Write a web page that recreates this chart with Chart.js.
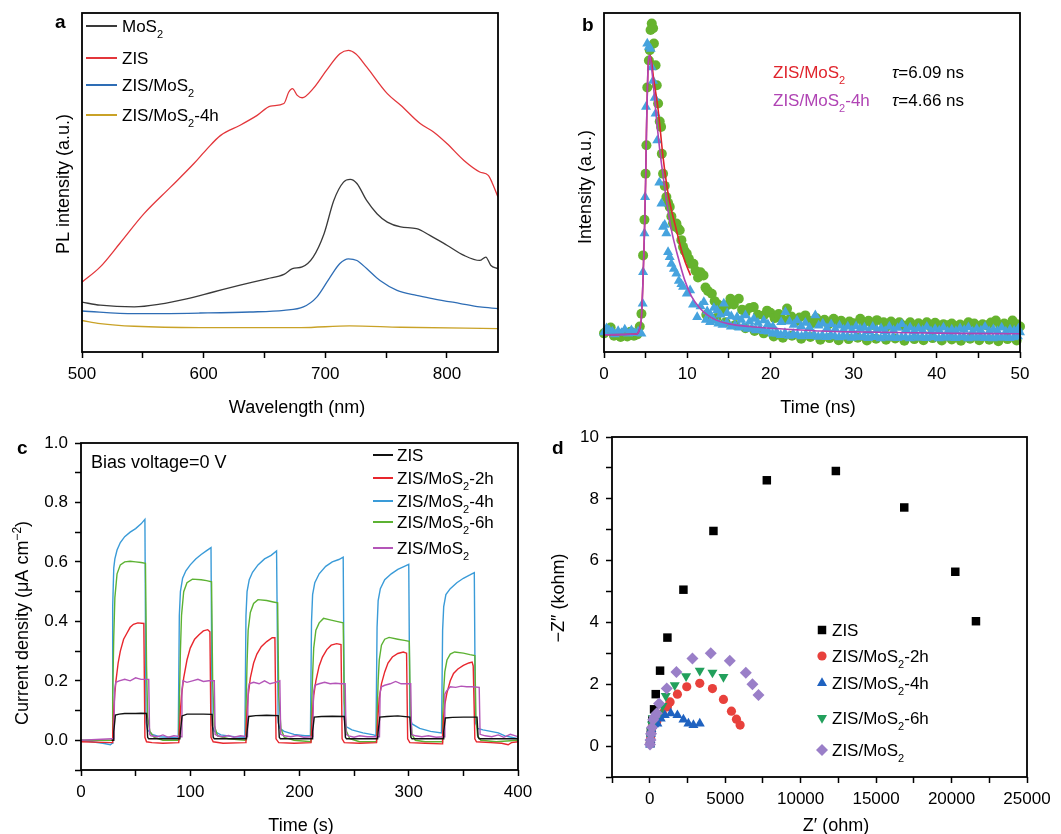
<!DOCTYPE html>
<html>
<head>
<meta charset="utf-8">
<title>PL, TRPL, photocurrent and EIS</title>
<script src="https://cdn.jsdelivr.net/npm/chart.js@4.4.1/dist/chart.umd.min.js"></script>
<style>
  html, body { margin: 0; padding: 0; background: #fff; }
  #fig { position: relative; width: 1061px; height: 834px; overflow: hidden; background: #fff; }
  #fig canvas { position: absolute; }
</style>
</head>
<body>
<div id="fig">
  <canvas id="plotA" width="530" height="420" style="left:0;top:0"></canvas>
  <canvas id="plotB" width="531" height="420" style="left:530px;top:0"></canvas>
  <canvas id="plotC" width="545" height="414" style="left:0;top:420px"></canvas>
  <canvas id="plotD" width="531" height="414" style="left:530px;top:420px"></canvas>
</div>
<script>
// ---- a: PL spectra (arbitrary units, 0-100) ----
const aMosX = [500,515,543,564,586,608,630,652,666,673,681,690,699,707,715,720.5,726,734,742.5,751,762,775,786,800,814,827,832,836,842];
const aMosY = [14.7,13.8,13.3,14.1,15.7,17.7,19.7,21.6,22.9,24.6,25.1,28,34.9,44.7,50.1,50.9,49.7,44.7,40.8,38.3,36.9,36.4,34.4,31.5,28.5,27,28,25.6,24.6];
const aZisX = [500,515,531,551,573,592,603,614,630,644,655,666,670,673,677,681,690,701,712,719,725,734,751,762,778,789,800,814,827,834,837,842];
const aZisY = [20.6,25.1,32,40.8,48.7,55.6,60,63.9,66.9,69.8,72.5,73.3,76.7,77.7,75.7,75,77.7,83.1,88,89,88,84.1,76.2,72.8,67.4,64.9,61.5,56.5,53.1,52.1,50.1,45.7];
const aZmX = [500,543,597,638,666,682,693,704,712,719,726,734,745,759,775,789,811,827,842];
const aZmY = [12.1,11.3,11.5,11.8,12.3,13.3,16.2,22.1,26.1,27.5,27,24.6,21.1,18.2,16.7,15.7,14.3,13.3,12.8];
const aZm4X = [500,515,543,597,680,720,762,842];
const aZm4Y = [9.3,8.4,7.6,7.2,7.2,7.7,7.3,6.9];

// ---- b: TRPL decay ----
const bGreenT = [0,0.4,0.8,1.2,1.6,2.0,2.4,2.8,3.2,3.6,4.0,4.3,4.5,4.7,4.86,5.0,5.1,5.2,5.4,5.5,5.6,5.74,5.9,6.0,6.2,6.34,6.5,6.7,6.86,6.95,7.1,7.3,7.5,7.7,7.9,8.1,8.3,8.5,8.7,8.9,9.1,9.3,9.5,9.7,9.95,10.2,10.5,10.75,11.0,11.3,11.6,11.96,12.2,12.5,12.96,13.3,13.7,14.0,14.4,14.8,15.2,15.6,16.2,16.6,17.0,17.5,18.0,18.5,19.2,19.6,20.0,20.5,21.0,21.5,22.0,22.5,23.0,23.5,24.2,24.6,25.0,25.5,26.0,26.5,27.0,27.6,28.0,28.5,29.0,29.5,30.0,30.8,31.2,31.8,32.3,32.8,33.6,34.0,34.5,35.0,35.5,36.0,36.8,37.3,37.8,38.3,38.8,39.3,39.8,40.3,40.8,41.3,41.8,42.3,42.8,43.3,43.8,44.5,45.0,45.5,46.0,46.5,47.1,47.6,48.1,48.6,49.1,49.6,50.0];
const bGreenV = [5.5,6.5,7.2,4.8,5.2,4.4,5.6,4.6,6.0,4.8,5.2,7.5,11.3,28.5,39,52.6,61,78,86,89,95,96.9,95.5,91,84.6,78.7,73.3,68,66.4,58.5,52.6,49,45.7,44,42.8,40,38,37,37.9,36.5,35.9,33,31,29.8,29,27.5,26,26,24,22,23.5,22.6,19,18,17.2,15,14,13.5,12,13.8,15.7,14,15.7,12.5,11.5,13,13.3,11,10.8,12.2,11.6,10,11.2,9.5,12.8,10.5,9,10.2,10.8,9.2,8.5,10,8.8,9.5,8.2,9.8,8.5,9.2,8,9,8.5,9.8,8.6,9.2,8,9.4,8.8,7.5,9,8.2,8.8,7.8,8.8,7.6,8.5,7.9,8.8,7.4,8.6,7.8,8.2,7.9,8.4,7.6,8.1,7.5,8.8,8.4,7.6,8.2,7.8,8.7,9.3,8,8.4,7.6,9.3,8.2,7.5];
const bGreenLowT = [12.3,13.5,14.6,15.8,17,18.1,19.2,20.4,21.5,22.6,23.7,24.8,26,27.1,28.2,29.4,30.5,31.6,32.7,33.9,35,36.1,37.3,38.4,39.5,40.6,41.8,42.9,44,45.1,46.3,47.4,48.5,49.6];
const bGreenLowV = [11,10,8.8,8,7,6.2,5.5,4.6,4.2,4.8,3.9,4.4,3.6,4.1,3.5,3.8,4.2,3.4,3.9,3.6,4.0,3.3,3.8,3.5,4.1,3.4,3.7,3.3,3.9,3.5,3.6,3.2,3.8,3.4];
const bBlueT = [0,0.3,0.6,1.0,1.3,1.7,2.1,2.5,2.9,3.3,3.7,4.1,4.5,4.65,4.7,4.86,4.94,5.05,5.2,5.4,5.6,5.74,5.9,6.1,6.2,6.4,6.65,6.9,7.1,7.3,7.5,7.7,7.9,8.1,8.4,8.7,9.0,9.3,9.5,9.95,10.35,10.7,11.2,11.6,12.0,12.4,12.8,13.2,13.6,14.0,14.4,14.8,15.3,16.0,16.5,17.0,17.5,18.0,18.5,19.2,19.7,20.3,20.8,21.3,21.8,22.3,22.8,23.2,23.7,24.2,24.7,25.4,25.8,26.3,26.8,27.3,27.8,28.3,28.8,29.3,29.8,30.3,30.8,31.3,31.8,32.3,32.8,33.3,33.8,34.3,34.8,35.3,35.8,36.3,36.8,37.3,37.8,38.3,38.8,39.3,39.8,40.3,40.8,41.3,41.8,42.3,42.8,43.3,43.8,44.3,44.8,45.3,45.8,46.3,46.8,47.3,47.8,48.3,48.8,49.3,49.8,50.0];
const bBlueV = [5.8,7,6.5,6.0,5.2,6.2,5.6,6.6,5.4,6.4,5.6,6.0,5.4,14.3,23.6,35,45.7,72.3,91,90,89.4,84,80,75,70.3,62.4,50,43.8,36.9,37.5,35,29.5,28,26,24.5,23.1,21,20,19.2,17.2,18.2,14,10.3,13.5,14.7,12,11,13,12.3,11,14.3,11.5,10.5,10.3,9.5,10.8,9,9.8,8.6,9.3,8.2,7.5,5.4,8.8,11.8,9,8,9.3,7.6,8.6,7.2,10.8,7.8,8.4,7,8.2,6.8,7.8,6.6,7.5,6.4,7.6,6.8,7.2,6.2,7.4,6.5,7,6.2,7.5,6.4,7.1,8.2,6.6,7.2,6.2,7,6.4,7.4,6.1,6.8,6.3,7.2,6,6.6,6.2,7,6.5,7.3,6,6.8,6.3,7.4,6.1,6.7,6.2,7.2,6,6.6,6.3,6.9,5.8];
const bBlueLowT = [12.25,12.75,13.25,13.75,14.25,14.75,15.25,15.75,16.25,16.75,17.25,17.75,18.25,18.75,19.25,19.75,20.25,20.75,21.25,21.75,22.25,22.75,23.25,23.75,24.25,24.75,25.25,25.75,26.25,26.75,27.25,27.75,28.25,28.75,29.25,29.75,30.25,30.75,31.25,31.75,32.25,32.75,33.25,33.75,34.25,34.75,35.25,35.75,36.25,36.75,37.25,37.75,38.25,38.75,39.25,39.75,40.25,40.75,41.25,41.75,42.25,42.75,43.25,43.75,44.25,44.75,45.25,45.75,46.25,46.75,47.25,47.75,48.25,48.75,49.25,49.75];
const bBlueLowV = [9.5,8.8,9.2,8.4,8.0,8.6,7.5,7.9,7.2,7.6,6.8,7.0,6.4,6.9,6.2,6.0,5.4,5.9,5.0,5.6,4.8,5.3,5.0,4.6,5.2,4.7,5.1,4.5,4.9,4.4,5.0,4.6,4.3,4.8,4.5,4.2,4.7,4.3,4.6,4.1,4.5,4.4,4.0,4.6,4.2,4.5,4.1,4.4,4.3,4.0,4.6,4.2,4.4,4.1,4.5,4.3,4.0,4.4,4.2,4.6,4.1,4.3,4.5,4.0,4.4,4.2,4.6,4.1,4.3,4.0,4.5,4.2,4.4,4.1,4.3,4.6];
const bRedFitT = [0,3.9,4.3,4.5,4.7,4.86,5.0,5.1,5.3,5.55,6.0,6.5,7.1,7.7,8.7,9.55,10.4];
const bRedFitV = [5.1,5.3,7,10.3,22,35,50,64.4,84,87.5,80,71.6,57.5,46.8,36,28,22.6];
const bPurFitT = [0,3.9,4.3,4.5,4.7,4.86,5.0,5.1,5.3,5.5,5.8,6.1,6.4,6.7,7.1,7.5,8.1,8.9,9.7,10.5,11.5,12.5,13.5,15,17.5,20,23.6,26,31,36,42,50];
const bPurFitV = [5.1,5.3,7,10.3,22,35,50,64.4,84,87.5,82,74.3,66.5,59.6,52,44.8,36,28,21.2,16.5,13,10.8,9.4,8.3,7.5,7,6.5,6.2,5.9,5.7,5.5,5.4];

// ---- c: transient photocurrent ----
const cBlueT = [0,10,20,27,28.5,29,30,31,33,36,40,45,50,55,58.5,59.5,61,65,72,80,89,90,91,93,96,100,105,110,115,119,120,122,128,140,150,151,152,154,157,162,168,174,179,180.5,182,186,195,205,210,211,212,214,218,224,230,236,240,241,243,248,258,268,270,271,272,274,278,284,290,296,300,301,303,310,320,330,331,332,334,338,344,350,356,360,361,363,368,375,382,388,394,400];
const cBlueV = [0,-0.005,-0.01,-0.015,-0.01,0.45,0.58,0.61,0.64,0.665,0.685,0.7,0.712,0.728,0.743,0.06,0.035,0.02,0.012,0.01,0.008,0.42,0.5,0.545,0.57,0.59,0.61,0.625,0.638,0.648,0.05,0.03,0.018,0.012,0.01,0.42,0.5,0.54,0.565,0.59,0.61,0.622,0.637,0.06,0.04,0.03,0.02,0.015,0.015,0.4,0.49,0.53,0.56,0.585,0.6,0.608,0.616,0.07,0.045,0.035,0.025,0.018,0.015,0.38,0.47,0.51,0.54,0.56,0.575,0.585,0.592,0.08,0.055,0.04,0.03,0.025,0.37,0.45,0.49,0.51,0.53,0.545,0.556,0.564,0.06,0.04,0.035,0.03,0.025,0.015,0.01,0.005];
const cGreenT = [0,28.5,29,30,31,33,36,40,45,50,55,59,60,61,63,67,75,89.5,90,91,92,94,97,102,110,115,119.5,120.5,122,125,135,150.5,151,152,153,155,158,162,170,176,180,181,183,186,195,210.5,211,212,213,215,218,222,228,234,240,241,243,246,255,270.5,271,272,273,275,278,282,290,296,300.5,301.5,303,306,315,330.5,331,332,333,335,338,342,350,356,360.5,361.5,363,366,380,400];
const cGreenV = [0,0,0.15,0.35,0.48,0.56,0.59,0.6,0.602,0.6,0.598,0.595,0.25,0.08,0.03,0.01,0,0,0.12,0.3,0.42,0.5,0.53,0.542,0.54,0.537,0.533,0.2,0.05,0.015,0.005,0,0.1,0.26,0.37,0.43,0.46,0.473,0.47,0.465,0.462,0.15,0.04,0.01,0,-0.005,0.1,0.22,0.31,0.37,0.395,0.41,0.405,0.4,0.395,0.13,0.03,0.005,-0.005,-0.005,0.08,0.2,0.27,0.32,0.34,0.346,0.34,0.336,0.333,0.1,0.02,0,-0.005,-0.005,0.07,0.17,0.23,0.27,0.29,0.297,0.293,0.288,0.285,0.08,0.015,0,-0.005,0];
const cRedT = [0,28.5,29,30,31,32,34,36,39,42,45,48,52,57.5,58.5,60,65,75,89.5,90,91,92,94,97,100,104,108,112,116,118,119,121,130,150.5,151,152,153,155,158,161,165,170,175,177.5,178.5,181,195,210.5,211,212,213,215,218,221,225,229,234,238,239,241,255,270.5,271,272,273,275,278,281,285,290,295,298,299,301,315,330.5,331,332,333,335,338,341,345,350,355,358,359,360.5,362,375,385,391,394,400];
const cRedV = [-0.005,-0.008,0.02,0.1,0.16,0.2,0.26,0.3,0.34,0.36,0.38,0.39,0.395,0.393,0.01,-0.005,-0.008,-0.01,-0.008,0.03,0.1,0.15,0.21,0.27,0.31,0.34,0.355,0.368,0.372,0.365,0.01,-0.005,-0.01,-0.008,0.03,0.1,0.15,0.21,0.26,0.29,0.315,0.332,0.345,0.345,0.005,-0.008,-0.01,-0.008,0.03,0.1,0.15,0.2,0.25,0.28,0.305,0.32,0.325,0.322,0.005,-0.008,-0.01,-0.008,0.03,0.09,0.14,0.19,0.23,0.26,0.28,0.292,0.297,0.293,0.005,-0.008,-0.01,-0.012,0.02,0.08,0.12,0.16,0.2,0.225,0.24,0.252,0.26,0.263,0.25,0.005,-0.005,-0.008,-0.01,-0.015,-0.008,-0.005];
const cPurT = [0,28.5,30,30.8,31.8,35,40,45,50,55,62,62.8,64,70,75,80,85,91.8,92.4,93.4,97,102,107,112,117,122,122.8,125,130,135,140,146,152.4,153,154,158,163,168,173,178,182,182.8,186,192,198,204,212.2,212.8,214,218,223,228,233,238,241.8,242.6,245,250,255,262,273.2,273.8,275,278,283,288,293,298,301.8,302.6,306,312,318,325,332.4,333,334.5,338,343,348,353,358,364.5,365.3,370,376,382,387,393,400];
const cPurV = [0,0.005,0.005,0.17,0.195,0.2,0.205,0.2,0.21,0.205,0.205,0.02,0.015,0.012,0.018,0.01,0.015,0.012,0.17,0.2,0.195,0.2,0.205,0.198,0.2,0.2,0.02,0.015,0.012,0.016,0.01,0.015,0.012,0.17,0.19,0.195,0.19,0.2,0.19,0.195,0.2,0.02,0.015,0.012,0.016,0.01,0.012,0.16,0.185,0.19,0.195,0.19,0.192,0.19,0.19,0.02,0.015,0.01,0.015,0.012,0.012,0.16,0.18,0.185,0.19,0.198,0.19,0.19,0.19,0.02,0.015,0.012,0.015,0.01,0.012,0.155,0.165,0.18,0.178,0.182,0.18,0.18,0.178,0.02,0.015,0.012,0.018,0.01,0.02,0.012];
const cBlkT = [28,29.5,30,31.5,35,40,50,55,60,61,62,75,90.5,91,92.5,97,105,112,120,121,122,135,151.5,152,153.5,160,170,180.5,181.5,182.5,195,211.5,212,213.5,220,230,241,242,243,255,271.5,272,273.5,280,290,301,302,303,315,331.5,332,333.5,340,350,362.5,363.5,364.5,380,400];
const cBlkV = [0,0,0.03,0.085,0.088,0.09,0.09,0.091,0.09,0.01,0.005,0.005,0.005,0.03,0.082,0.088,0.088,0.088,0.087,0.01,0.005,0.005,0.005,0.03,0.08,0.083,0.084,0.083,0.01,0.005,0.005,0.005,0.03,0.078,0.08,0.081,0.08,0.01,0.005,0.005,0.005,0.03,0.078,0.08,0.082,0.078,0.01,0.005,0.005,0.005,0.03,0.075,0.077,0.078,0.078,0.01,0.005,0.005,0.005];

// ---- d: Nyquist plots ----
const dZisX = [30,80,177,287,398,685,1172,2233,4222,7759,12334,16866,20248,21618];
const dZisY = [0.1,0.45,0.84,1.19,1.68,2.44,3.51,5.06,6.96,8.6,8.9,7.72,5.64,4.04];
const d2hX = [30,60,100,150,250,464,840,1172,1348,1835,2454,3316,4156,4885,5415,5747,5990];
const d2hY = [0.1,0.25,0.45,0.6,0.75,0.79,1.06,1.27,1.43,1.68,1.92,2.03,1.86,1.51,1.13,0.87,0.68];
const d4hX = [20,50,80,110,160,300,508,729,995,1393,1835,2233,2564,2896,3316];
const d4hY = [0.05,0.2,0.4,0.55,0.65,0.7,0.73,0.89,1.0,1.06,1.0,0.86,0.73,0.68,0.73];
const d6hX = [30,60,100,150,200,400,619,840,1061,1658,2410,3316,4156,4885];
const d6hY = [0.1,0.3,0.5,0.7,0.9,0.95,1.06,1.3,1.62,1.97,2.26,2.44,2.38,2.24];
const dMosX = [20,50,90,150,230,320,464,619,1127,1768,2829,4045,5305,6366,6808,7206];
const dMosY = [0.05,0.2,0.4,0.6,0.85,0.95,1.06,1.38,1.86,2.4,2.83,3.0,2.76,2.37,2.0,1.65];

const FONT = "'Liberation Sans', Arial, Helvetica, sans-serif";
Chart.defaults.font.family = FONT;
Chart.defaults.font.size = 17;
Chart.defaults.color = '#000';
Chart.defaults.animation = false;
Chart.defaults.plugins.legend.display = false;
Chart.defaults.plugins.tooltip.enabled = false;

const xy = (xs, ys) => xs.map((x, i) => ({ x: x, y: ys[i] }));
const onStep = (v, every) => Math.abs(v / every - Math.round(v / every)) < 1e-6;

// text with sub (_), sup (^), italic (~) pieces
function rich(ctx, x, y, parts, o) {
  const size = o.size || 17;
  const fontFor = p => {
    const k = p[0];
    const small = k === '_' || k === '^';
    return (k === '~' ? 'italic ' : '') + (o.bold ? 'bold ' : '') + (small ? Math.round(size * 0.64) : size) + 'px ' + FONT;
  };
  const txt = p => ('_^~'.includes(p[0]) ? p.slice(1) : p);
  ctx.save();
  ctx.translate(x, y);
  if (o.rot) ctx.rotate(o.rot);
  ctx.fillStyle = o.color || '#000';
  ctx.textAlign = 'left';
  ctx.textBaseline = 'alphabetic';
  let w = 0;
  parts.forEach(p => { ctx.font = fontFor(p); w += ctx.measureText(txt(p)).width; });
  let cx = o.align === 'center' ? -w / 2 : 0;
  const base = size * 0.36;
  parts.forEach(p => {
    ctx.font = fontFor(p);
    let dy = base;
    if (p[0] === '_') dy += size * 0.32;
    if (p[0] === '^') dy -= size * 0.42;
    ctx.fillText(txt(p), cx, dy);
    cx += ctx.measureText(txt(p)).width;
  });
  ctx.restore();
}

function letter(ctx, s, x, y) {
  ctx.save();
  ctx.font = 'bold 19px ' + FONT;
  ctx.fillStyle = '#000';
  ctx.textBaseline = 'alphabetic';
  ctx.fillText(s, x, y);
  ctx.restore();
}

function lineKey(ctx, x0, x1, y, color) {
  ctx.save();
  ctx.strokeStyle = color;
  ctx.lineWidth = 2;
  ctx.beginPath();
  ctx.moveTo(x0, y);
  ctx.lineTo(x1, y);
  ctx.stroke();
  ctx.restore();
}

function xScale(min, max, step, every, height, fmt) {
  return {
    type: 'linear', position: 'bottom', min: min, max: max,
    border: { display: false },
    grid: { drawOnChartArea: false, drawTicks: true, tickLength: 6, tickWidth: 1.5, tickColor: '#000' },
    ticks: {
      stepSize: step, autoSkip: false, includeBounds: false, maxRotation: 0, padding: 6,
      font: { size: 17 }, color: '#000',
      callback: v => (v >= 0 && onStep(v, every)) ? (fmt ? fmt(v) : String(v)) : ''
    },
    afterFit: s => { s.height = height; s.paddingLeft = 0; s.paddingRight = 0; }
  };
}

function yScale(min, max, step, every, width, fmt) {
  return {
    type: 'linear', position: 'left', min: min, max: max,
    border: { display: false },
    grid: { drawOnChartArea: false, drawTicks: true, tickLength: 6, tickWidth: 1.5, tickColor: '#000' },
    ticks: {
      stepSize: step, autoSkip: false, includeBounds: false, padding: 7,
      font: { size: 17 }, color: '#000',
      callback: v => (v >= 0 && onStep(v, every)) ? (fmt ? fmt(v) : String(v)) : ''
    },
    afterFit: s => { s.width = width; s.paddingTop = 0; s.paddingBottom = 0; }
  };
}

function blankY(width) {
  return {
    type: 'linear', position: 'left', min: 0, max: 100,
    border: { display: false }, grid: { display: false }, ticks: { display: false },
    afterFit: s => { s.width = width; s.paddingTop = 0; s.paddingBottom = 0; }
  };
}

function line(label, xs, ys, color, width, order, smooth) {
  return {
    label: label, data: xy(xs, ys), showLine: true, borderColor: color, backgroundColor: color,
    borderWidth: width, pointRadius: 0, fill: false, order: order,
    cubicInterpolationMode: smooth ? 'monotone' : 'default', tension: 0
  };
}

function marks(label, xs, ys, color, style, r, rot, order) {
  return {
    label: label, data: xy(xs, ys), showLine: false, backgroundColor: color, borderColor: color,
    borderWidth: 0, pointStyle: style, pointRadius: r, pointRotation: rot || 0, clip: false, order: order
  };
}

function framePlugin(extras) {
  return {
    id: 'frame',
    afterDatasetsDraw(chart) {
      const ctx = chart.ctx, a = chart.chartArea;
      ctx.save();
      ctx.strokeStyle = '#000';
      ctx.lineWidth = 1.8;
      ctx.strokeRect(a.left, a.top, a.right - a.left, a.bottom - a.top);
      ctx.restore();
    },
    afterDraw(chart) { extras(chart.ctx, chart); }
  };
}

// ---------- panel a ----------
const colA = { mos: '#3a3a3a', zis: '#e3363b', zm: '#2e6db5', zm4: '#c9a227' };
new Chart(document.getElementById('plotA'), {
  type: 'scatter',
  data: { datasets: [
    line('MoS2', aMosX, aMosY, colA.mos, 1.3, 2, true),
    line('ZIS', aZisX, aZisY, colA.zis, 1.3, 1, true),
    line('ZIS/MoS2', aZmX, aZmY, colA.zm, 1.3, 3, true),
    line('ZIS/MoS2-4h', aZm4X, aZm4Y, colA.zm4, 1.3, 4, true)
  ] },
  options: {
    responsive: false, devicePixelRatio: 1,
    layout: { padding: { top: 13, right: 32, left: 0, bottom: 0 } },
    scales: { x: xScale(500, 842, 50, 100, 68), y: blankY(82) }
  },
  plugins: [framePlugin(ctx => {
    letter(ctx, 'a', 55, 28);
    const rows = [
      [26, colA.mos, ['MoS', '_2']],
      [58, colA.zis, ['ZIS']],
      [85, colA.zm, ['ZIS/MoS', '_2']],
      [115, colA.zm4, ['ZIS/MoS', '_2', '-4h']]
    ];
    rows.forEach(r => { lineKey(ctx, 86, 117, r[0], r[1]); rich(ctx, 122, r[0], r[2], { size: 17 }); });
    rich(ctx, 63, 184, ['PL intensity (a.u.)'], { size: 18, align: 'center', rot: -Math.PI / 2 });
    rich(ctx, 297, 407, ['Wavelength (nm)'], { size: 18, align: 'center' });
  })]
});

// ---------- panel b ----------
const colB = { green: '#66b32e', blue: '#46a3de', red: '#e0242c', pur: '#b044b4' };
new Chart(document.getElementById('plotB'), {
  type: 'scatter',
  data: { datasets: [
    marks('ZIS/MoS2', bGreenT.concat(bGreenLowT), bGreenV.concat(bGreenLowV), colB.green, 'circle', 5, 0, 4),
    marks('ZIS/MoS2-4h', bBlueT.concat(bBlueLowT), bBlueV.concat(bBlueLowV), colB.blue, 'triangle', 5.8, 0, 3),
    line('ZIS/MoS2 fit', bRedFitT, bRedFitV, colB.red, 1.6, 2, true),
    line('ZIS/MoS2-4h fit', bPurFitT, bPurFitV, colB.pur, 1.6, 1, true)
  ] },
  options: {
    responsive: false, devicePixelRatio: 1,
    layout: { padding: { top: 13, right: 41, left: 0, bottom: 0 } },
    scales: { x: xScale(0, 50, 5, 10, 68), y: blankY(74) }
  },
  plugins: [framePlugin(ctx => {
    letter(ctx, 'b', 52, 31);
    rich(ctx, 243, 72, ['ZIS/MoS', '_2'], { size: 17, color: colB.red });
    rich(ctx, 362, 72, ['~τ', '=6.09 ns'], { size: 17 });
    rich(ctx, 243, 100, ['ZIS/MoS', '_2', '-4h'], { size: 17, color: colB.pur });
    rich(ctx, 362, 100, ['~τ', '=4.66 ns'], { size: 17 });
    rich(ctx, 55, 187, ['Intensity (a.u.)'], { size: 18, align: 'center', rot: -Math.PI / 2 });
    rich(ctx, 288, 407, ['Time (ns)'], { size: 18, align: 'center' });
  })]
});

// ---------- panel c ----------
const colC = { blk: '#111111', red: '#e8262d', blue: '#3a9bd8', green: '#5cb233', pur: '#b455b8' };
new Chart(document.getElementById('plotC'), {
  type: 'scatter',
  data: { datasets: [
    line('ZIS', cBlkT, cBlkV, colC.blk, 1.4, 1),
    line('ZIS/MoS2-2h', cRedT, cRedV, colC.red, 1.4, 3),
    line('ZIS/MoS2-4h', cBlueT, cBlueV, colC.blue, 1.4, 5),
    line('ZIS/MoS2-6h', cGreenT, cGreenV, colC.green, 1.4, 4),
    line('ZIS/MoS2', cPurT, cPurV, colC.pur, 1.4, 2)
  ] },
  options: {
    responsive: false, devicePixelRatio: 1,
    layout: { padding: { top: 23, right: 27, left: 0, bottom: 0 } },
    scales: {
      x: xScale(0, 400, 50, 100, 64),
      y: yScale(-0.1, 1.0, 0.1, 0.2, 81, v => v.toFixed(1))
    }
  },
  plugins: [framePlugin(ctx => {
    letter(ctx, 'c', 17, 34);
    rich(ctx, 91, 42, ['Bias voltage=0 V'], { size: 18 });
    const rows = [
      [35, colC.blk, ['ZIS']],
      [58, colC.red, ['ZIS/MoS', '_2', '-2h']],
      [81, colC.blue, ['ZIS/MoS', '_2', '-4h']],
      [102, colC.green, ['ZIS/MoS', '_2', '-6h']],
      [128, colC.pur, ['ZIS/MoS', '_2']]
    ];
    rows.forEach(r => { lineKey(ctx, 373, 393, r[0], r[1]); rich(ctx, 397, r[0], r[2], { size: 17 }); });
    rich(ctx, 22, 203, ['Current density (μA cm', '^−2', ')'], { size: 18, align: 'center', rot: -Math.PI / 2 });
    rich(ctx, 301, 405, ['Time (s)'], { size: 18, align: 'center' });
  })]
});

// ---------- panel d ----------
const colD = { zis: '#000000', h2: '#e8413c', h4: '#1f62c0', h6: '#22a05c', mos: '#9a7fc8' };
const dSets = [
  marks('ZIS', dZisX, dZisY, colD.zis, 'rect', 6, 0, 5),
  marks('ZIS/MoS2-2h', d2hX, d2hY, colD.h2, 'circle', 4.6, 0, 4),
  marks('ZIS/MoS2-4h', d4hX, d4hY, colD.h4, 'triangle', 5.8, 0, 3),
  marks('ZIS/MoS2-6h', d6hX, d6hY, colD.h6, 'triangle', 5.8, 180, 2),
  marks('ZIS/MoS2', dMosX, dMosY, colD.mos, 'rectRot', 6, 0, 1)
];
new Chart(document.getElementById('plotD'), {
  type: 'scatter',
  data: { datasets: dSets },
  options: {
    responsive: false, devicePixelRatio: 1,
    layout: { padding: { top: 17, right: 34, left: 0, bottom: 0 } },
    scales: {
      x: xScale(-2500, 25000, 2500, 5000, 57),
      y: yScale(-1, 10, 1, 2, 82)
    }
  },
  plugins: [framePlugin(ctx => {
    letter(ctx, 'd', 22, 34);
    const rows = [
      [210, ['ZIS']],
      [236, ['ZIS/MoS', '_2', '-2h']],
      [263, ['ZIS/MoS', '_2', '-4h']],
      [298, ['ZIS/MoS', '_2', '-6h']],
      [330, ['ZIS/MoS', '_2']]
    ];
    rows.forEach((r, i) => {
      const ds = dSets[i];
      ctx.save();
      ctx.fillStyle = ds.backgroundColor;
      ctx.strokeStyle = ds.borderColor;
      Chart.helpers.drawPoint(ctx, { pointStyle: ds.pointStyle, radius: ds.pointRadius, rotation: ds.pointRotation, borderWidth: 0 }, 292, r[0]);
      ctx.restore();
      rich(ctx, 302, r[0], r[1], { size: 17 });
    });
    rich(ctx, 28, 178, ['−Z″ (kohm)'], { size: 18, align: 'center', rot: -Math.PI / 2 });
    rich(ctx, 306, 405, ['Z′ (ohm)'], { size: 18, align: 'center' });
  })]
});
</script>
</body>
</html>
